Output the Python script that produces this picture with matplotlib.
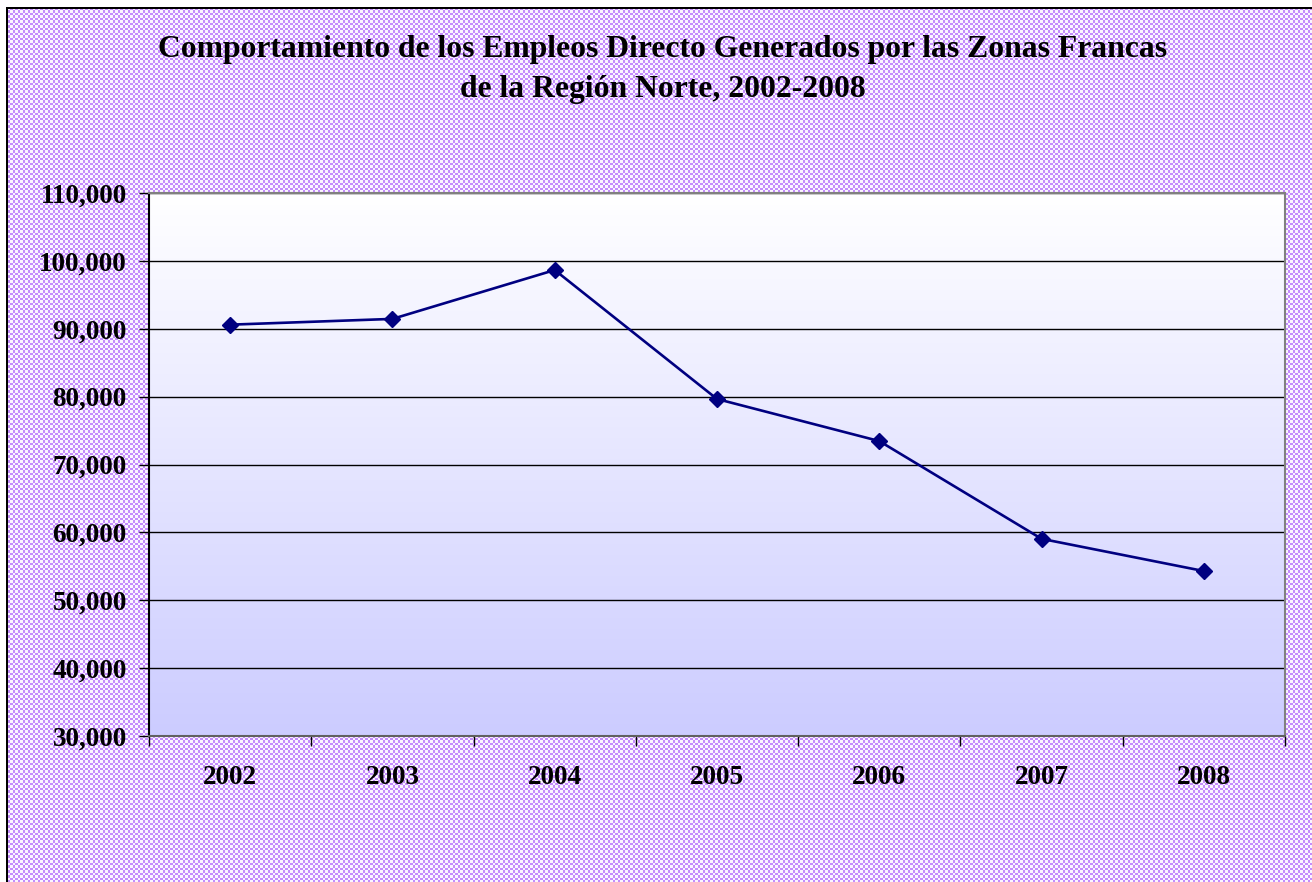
import numpy as np
import matplotlib
matplotlib.use("Agg")
import matplotlib.pyplot as plt
from matplotlib.colors import LinearSegmentedColormap
from matplotlib.ticker import FuncFormatter, MultipleLocator

years = ["2002", "2003", "2004", "2005", "2006", "2007", "2008"]
empleos = [90600, 91450, 98650, 79650, 73450, 59050, 54300]
title = "Comportamiento de los Empleos Directo Generados por las Zonas Francas\nde la Región Norte, 2002-2008"

W, H = 1312, 882
fig = plt.figure(figsize=(W / 100, H / 100), dpi=100)
fig.patch.set_facecolor("white")

# checkered background
yy, xx = np.mgrid[0:H, 0:W]
chk = (((xx * 2) // 5 + (yy * 2) // 5) % 2).astype(float)
purple = np.array([196, 140, 252]) / 255.0
white = np.array([250, 245, 255]) / 255.0
img = np.where(chk[..., None] > 0.5, purple, white)
img[:7, :, :] = 1.0
img[:, :6, :] = 1.0
img[7:9, 6:, :] = 0.0
img[7:, 6:8, :] = 0.0
fig.figimage(img, xo=0, yo=0, origin="upper", zorder=-5)

ax = fig.add_axes([149 / W, (H - 736) / H, (1285 - 149) / W, (736 - 193) / H])
ax.set_zorder(2)
ax.set_facecolor("none")
x = np.arange(len(years))

cmap = LinearSegmentedColormap.from_list("g", ["#ffffff", "#ccccff"])
grad = np.linspace(0, 1, 256).reshape(-1, 1)
ax.imshow(grad, cmap=cmap, aspect="auto", extent=[-0.5, len(years) - 0.5, 30000, 110000],
          origin="upper", zorder=0, interpolation="bilinear")
ax.set_xlim(-0.5, len(years) - 0.5)
ax.set_ylim(30000, 110000)

ax.yaxis.set_major_locator(MultipleLocator(10000))
ax.grid(axis="y", color="black", linewidth=1.0, zorder=1)
ax.set_axisbelow(False)

ax.plot(x, empleos, color="#000080", linewidth=1.9, marker="D", markersize=8.5,
        markerfacecolor="#000080", markeredgecolor="#000080", zorder=3)

ax.yaxis.set_major_formatter(FuncFormatter(lambda v, p: f"{int(v):,}"))
ax.set_xticks(np.arange(-0.5, len(years), 1.0))
ax.set_xticklabels([])
ax.set_xticks(x, minor=True)
ax.set_xticklabels(years, minor=True)
ax.tick_params(axis="x", which="minor", length=0, pad=21)
ax.tick_params(axis="x", which="major", length=7, width=1, color="black", direction="out")
ax.tick_params(axis="y", length=7, width=1, direction="out", pad=9)

for lbl in ax.get_yticklabels() + ax.get_xticklabels(minor=True):
    lbl.set_fontfamily("Liberation Serif")
    lbl.set_fontweight("bold")
    lbl.set_fontsize(19.5)

ax.spines["left"].set_color("black")
ax.spines["bottom"].set_color("#606060")
ax.spines["top"].set_color("#808080")
ax.spines["right"].set_color("#808080")
for s in ax.spines.values():
    s.set_linewidth(1.5)
    s.set_zorder(4)

fig.text(0.505, (H - 70) / H, title, ha="center", va="center", fontfamily="Liberation Serif",
         fontweight="bold", fontsize=22.8, linespacing=1.5)

fig.savefig("out.png", dpi=100)
